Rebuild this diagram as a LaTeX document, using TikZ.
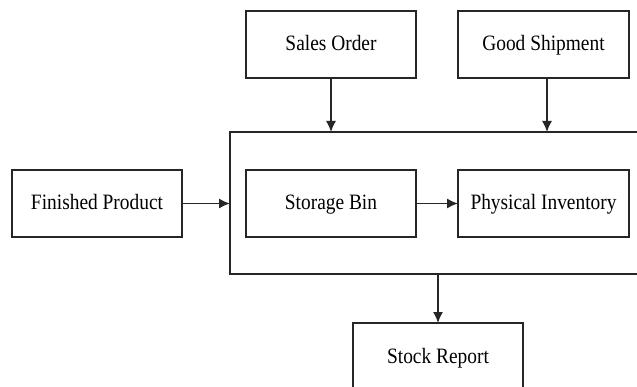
\documentclass[tikz,border=0pt]{standalone}
\usepackage{fontspec}
\setmainfont{Liberation Serif}
\usetikzlibrary{arrows.meta}
\newcommand{\lbl}[1]{\scalebox{1}[1.13]{#1}}
\begin{document}
\begin{tikzpicture}[x=1pt,y=-1pt,
  boxnode/.style={draw=black!85, line width=1.7pt, inner sep=0pt, outer sep=0pt,
    font=\fontsize{19.4}{23}\selectfont, text=black, text height=15pt, text depth=2pt},
  arr/.style={draw=black!85, line width=1.5pt, -{Latex[length=11pt,width=10pt]}}]
\useasboundingbox (0,0) rectangle (637,387);
\clip (0,0) rectangle (637,387);
\fill[white] (0,0) rectangle (637,387);
% container
\node[boxnode, minimum width=420pt, minimum height=142pt] (cont) at (440,203) {};
% boxes
\node[boxnode, minimum width=170pt, minimum height=67pt] (so) at (331,44.5) {\lbl{Sales Order}};
\node[boxnode, minimum width=171pt, minimum height=67pt] (gs) at (543.5,44.5) {\lbl{Good Shipment}};
\node[boxnode, minimum width=170pt, minimum height=67pt] (fp) at (97,203.5) {\lbl{Finished Product}};
\node[boxnode, minimum width=170pt, minimum height=67pt] (sb) at (331,203.5) {\lbl{Storage Bin}};
\node[boxnode, minimum width=171pt, minimum height=67pt] (pi) at (543.5,203.5) {\lbl{Physical Inventory}};
\node[boxnode, minimum width=170pt, minimum height=67pt, anchor=north] (sr) at (438,323) {};
\node[font=\fontsize{19.4}{23}\selectfont, inner sep=0pt, text height=15pt, text depth=2pt] (srt) at (438,356.5) {\lbl{Stock Report}};
% connectors
\draw[arr] (so.south) -- (so.south |- cont.north);
\draw[arr] ([xshift=3.5pt]gs.south) -- ([xshift=3.5pt]gs.south |- cont.north);
\draw[arr] (fp.east) -- (fp.east -| cont.west);
\draw[arr] (sb.east) -- (pi.west);
\draw[arr] (sr.north |- cont.south) -- (sr.north);
\end{tikzpicture}
\end{document}
